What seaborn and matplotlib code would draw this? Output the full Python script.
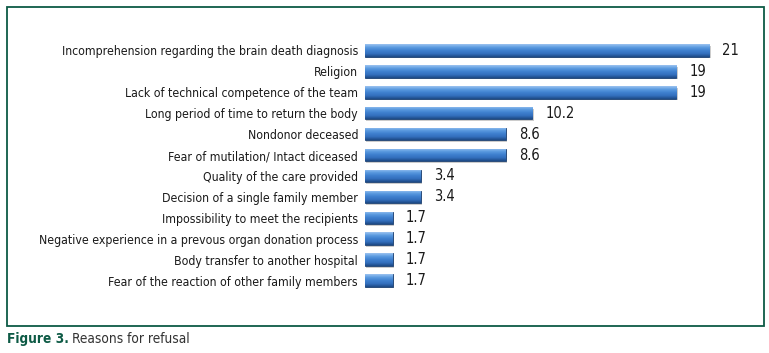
import matplotlib.pyplot as plt
import matplotlib.patches as mpatches
import numpy as np
import pandas as pd
import seaborn as sns

# Reasons for refusal (%)
reasons = [
    "Incomprehension regarding the brain death diagnosis",
    "Religion",
    "Lack of technical competence of the team",
    "Long period of time to return the body",
    "Nondonor deceased",
    "Fear of mutilation/ Intact diceased",
    "Quality of the care provided",
    "Decision of a single family member",
    "Impossibility to meet the recipients",
    "Negative experience in a prevous organ donation process",
    "Body transfer to another hospital",
    "Fear of the reaction of other family members",
]
values = [21, 19, 19, 10.2, 8.6, 8.6, 3.4, 3.4, 1.7, 1.7, 1.7, 1.7]
value_labels = ["21", "19", "19", "10.2", "8.6", "8.6", "3.4", "3.4", "1.7", "1.7", "1.7", "1.7"]

df = pd.DataFrame({"reason": reasons, "value": values})

sns.set_style("white")
plt.rcParams['font.family'] = ['DejaVu Sans']
plt.rcParams['font.stretch'] = 'condensed'

fig = plt.figure(figsize=(7.69, 3.53), dpi=100)

# outer frame
frame = mpatches.Rectangle((7 / 769, 1 - 326 / 353), 757 / 769, 319 / 353,
                           transform=fig.transFigure, fill=False,
                           edgecolor='#0d5a45', linewidth=1.3)
fig.patches.append(frame)

ax = fig.add_axes([365 / 769, 1 - 291 / 353, 400 / 769, 251 / 353])
sns.barplot(data=df, x="value", y="reason", orient="h", color="#3f80cf",
            width=0.6, saturation=1, ax=ax)

# gradient shading on each bar (light top, darker bottom)
grad = np.linspace(0, 1, 64).reshape(-1, 1)
cmap = sns.blend_palette(["#9cc3f0", "#5b9be0", "#3f80cf", "#336fbd", "#1d4a85"], as_cmap=True)
for p in ax.patches:
    x0, y0 = p.get_x(), p.get_y()
    w, h = p.get_width(), p.get_height()
    im = ax.imshow(grad, cmap=cmap, aspect='auto',
                   extent=(x0, x0 + w, y0 + h, y0), origin='upper', zorder=3)
    im.set_clip_path(p)
    p.set_edgecolor('#1c3f6e')
    p.set_linewidth(0.6)
    sh = mpatches.Rectangle((x0 + 0.08, y0 + 0.08), w, h, facecolor='#9a9a9a',
                            edgecolor='none', alpha=0.5, zorder=1)
    ax.add_patch(sh)
    p.set_zorder(2)

ax.set_xlim(0, 24.4)
ax.set_ylim(11.5, -0.5)

for i, (v, lab) in enumerate(zip(values, value_labels)):
    ax.text(v + 0.8, i, lab, va='center', ha='left', fontsize=10.5, color='#1a1a1a')

ax.set_xlabel("")
ax.set_ylabel("")
ax.set_xticks([])
ax.tick_params(axis='y', length=0, pad=5, labelsize=8.8, labelcolor='#1a1a1a')
for s in ax.spines.values():
    s.set_visible(False)
ax.patch.set_alpha(0)

t1 = fig.text(7 / 769, 1 - 339 / 353, "Figure 3.", fontsize=9.8, fontweight='bold',
              color='#0d5a45', va='center', ha='left')
fig.canvas.draw()
bb = t1.get_window_extent()
fig.text((bb.x1 + 3) / 769, 1 - 339 / 353, "Reasons for refusal", fontsize=9.8,
         color='#333333', va='center', ha='left')

fig.savefig("out.png", dpi=100)
